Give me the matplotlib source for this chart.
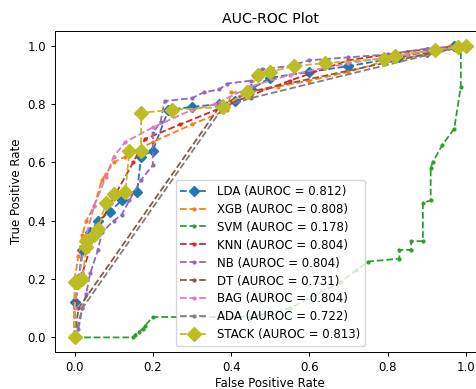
import matplotlib
matplotlib.use("Agg")
import matplotlib.pyplot as plt

# ROC points, one pair of lists per model
lda_fpr = [0, 0, 0.01, 0.02, 0.04, 0.06, 0.09, 0.12, 0.16, 0.17, 0.2, 0.24, 0.3, 0.37, 0.41, 0.45, 0.5, 0.6, 0.7, 0.83, 0.9, 0.97, 1.0]
lda_tpr = [0, 0.12, 0.2, 0.3, 0.36, 0.4, 0.43, 0.47, 0.5, 0.62, 0.64, 0.78, 0.79, 0.8, 0.81, 0.85, 0.89, 0.91, 0.93, 0.96, 0.98, 1.0, 1.0]

xgb_fpr = [0, 0, 0.01, 0.02, 0.03, 0.05, 0.07, 0.08, 0.1, 0.13, 0.2, 0.3, 0.39, 0.4, 0.45, 0.52, 0.6, 0.7, 0.8, 0.9, 0.96, 1.0]
xgb_tpr = [0, 0.2, 0.28, 0.35, 0.4, 0.45, 0.54, 0.56, 0.6, 0.62, 0.67, 0.73, 0.78, 0.84, 0.84, 0.86, 0.88, 0.91, 0.95, 0.97, 1.0, 1.0]

svm_fpr = [0, 0.15, 0.155, 0.165, 0.175, 0.18, 0.2, 0.45, 0.55, 0.68, 0.72, 0.75, 0.83, 0.83, 0.86, 0.86, 0.89, 0.89, 0.91, 0.91, 0.915, 0.94, 0.97, 0.987, 0.987, 1.0]
svm_tpr = [0, 0, 0.01, 0.02, 0.03, 0.04, 0.07, 0.07, 0.1, 0.19, 0.23, 0.26, 0.27, 0.3, 0.3, 0.33, 0.33, 0.46, 0.47, 0.58, 0.6, 0.66, 0.715, 0.86, 1.0, 1.0]

knn_fpr = [0, 0, 0.02, 0.05, 0.1, 0.15, 0.18, 0.27, 0.38, 0.45, 0.55, 0.7, 0.85, 1.0]
knn_tpr = [0, 0.12, 0.22, 0.35, 0.48, 0.6, 0.68, 0.73, 0.79, 0.83, 0.88, 0.95, 0.98, 1.0]

nb_fpr = [0, 0.01, 0.02, 0.03, 0.04, 0.06, 0.07, 0.1, 0.12, 0.14, 0.17, 0.2, 0.2, 0.22, 0.23, 0.3, 0.33, 0.37, 0.39, 0.45, 0.48, 0.55, 0.6, 0.7, 0.8, 0.9, 1.0]
nb_tpr = [0, 0.03, 0.1, 0.15, 0.22, 0.3, 0.36, 0.4, 0.42, 0.47, 0.54, 0.59, 0.7, 0.74, 0.81, 0.82, 0.84, 0.85, 0.87, 0.88, 0.92, 0.93, 0.95, 0.96, 0.97, 0.99, 1.0]

dt_fpr = [0, 0.01, 0.37, 0.44, 1.0]
dt_tpr = [0, 0.1, 0.79, 0.84, 1.0]

bag_fpr = [0, 0, 0.01, 0.03, 0.05, 0.08, 0.1, 0.13, 0.2, 0.3, 0.36, 0.45, 0.55, 0.7, 0.85, 1.0]
bag_tpr = [0, 0.1, 0.2, 0.35, 0.45, 0.55, 0.62, 0.67, 0.72, 0.78, 0.8, 0.86, 0.9, 0.94, 0.97, 1.0]

ada_fpr = [0, 0.02, 0.38, 0.45, 1.0]
ada_tpr = [0, 0.1, 0.79, 0.82, 1.0]

stack_fpr = [0, 0, 0.01, 0.02, 0.03, 0.03, 0.05, 0.06, 0.08, 0.1, 0.13, 0.14, 0.17, 0.17, 0.25, 0.38, 0.44, 0.47, 0.5, 0.56, 0.64, 0.79, 0.82, 0.92, 0.98, 1.0]
stack_tpr = [0, 0.19, 0.19, 0.2, 0.31, 0.33, 0.35, 0.37, 0.46, 0.49, 0.5, 0.64, 0.64, 0.77, 0.78, 0.79, 0.84, 0.9, 0.91, 0.93, 0.94, 0.955, 0.966, 0.985, 0.995, 1.0]

names = ["LDA", "XGB", "SVM", "KNN", "NB", "DT", "BAG", "ADA", "STACK"]
aurocs = [0.812, 0.808, 0.178, 0.804, 0.804, 0.731, 0.804, 0.722, 0.813]
curves = [(lda_fpr, lda_tpr), (xgb_fpr, xgb_tpr), (svm_fpr, svm_tpr), (knn_fpr, knn_tpr),
          (nb_fpr, nb_tpr), (dt_fpr, dt_tpr), (bag_fpr, bag_tpr), (ada_fpr, ada_tpr),
          (stack_fpr, stack_tpr)]

colors = ["tab:blue", "tab:orange", "tab:green", "tab:red", "tab:purple",
          "tab:brown", "tab:pink", "tab:gray", "tab:olive"]
markers = ["D", ".", ".", ".", ".", ".", ".", ".", "D"]
msizes = [5, 4, 4, 4, 4, 4, 4, 4, 7]

fig = plt.figure(figsize=(4.76, 3.89), dpi=100)
ax = fig.add_axes([0.1155, 0.0951, 0.9044, 0.825])

for (fpr, tpr), name, auc, c, m, ms in zip(curves, names, aurocs, colors, markers, msizes):
    ax.plot(fpr, tpr, linestyle="--", marker=m, markersize=ms, color=c, linewidth=1.3,
            label=f"{name} (AUROC = {auc:.3f})")

ax.set_xlim(-0.05, 1.05)
ax.set_ylim(-0.05, 1.05)
ax.set_title("AUC-ROC Plot", fontsize=10.2)
ax.set_xlabel("False Positive Rate", fontsize=8.5, labelpad=2)
ax.set_ylabel("True Positive Rate", fontsize=8.5, labelpad=3)
ax.tick_params(labelsize=8.5, width=0.7, length=3)
for s in ax.spines.values():
    s.set_linewidth(0.7)
ax.legend(loc="lower center", fontsize=8.5, labelspacing=0.42, handlelength=2.3)

fig.savefig("out.png", dpi=100)
